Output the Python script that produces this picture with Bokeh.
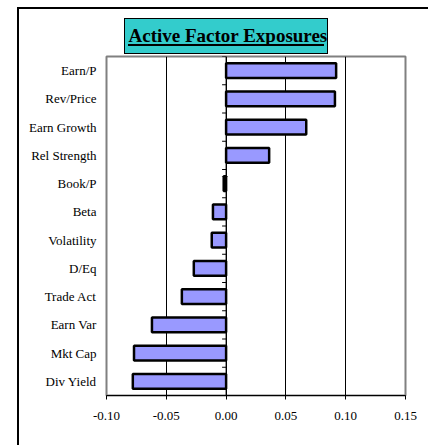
from bokeh.plotting import figure
from bokeh.models import (FactorRange, Range1d, FixedTicker, NumeralTickFormatter,
                          Span, ColumnDataSource, Title)
from bokeh.embed import file_html
from bokeh.resources import INLINE
import math

categories = ["Earn/P", "Rev/Price", "Earn Growth", "Rel Strength", "Book/P", "Beta",
              "Volatility", "D/Eq", "Trade Act", "Earn Var", "Mkt Cap", "Div Yield"]
exposures = [0.092, 0.091, 0.067, 0.036, -0.002, -0.011,
             -0.012, -0.027, -0.037, -0.062, -0.077, -0.078]
x_ticks = [-0.10, -0.05, 0.00, 0.05, 0.10, 0.15]
title_text = "Active Factor Exposures"

FONT = "Liberation Serif"

p = figure(width=428, height=445, output_backend="svg", toolbar_location=None,
           y_range=FactorRange(factors=categories[::-1], range_padding=0),
           x_range=Range1d(x_ticks[0], x_ticks[-1]),
           min_border_left=106, min_border_right=23, min_border_top=56, min_border_bottom=50)
p.background_fill_color = "white"
p.border_fill_color = None
p.outline_line_color = "#808080"
p.outline_line_width = 2

# chart-area decoration: outer border, title box and title underline
p.styles = {
    "background-color": "white",
    "background-image": ("linear-gradient(#000,#000), linear-gradient(#33CCCC,#33CCCC), "
                         "linear-gradient(#000,#000)"),
    "background-position": "128px 44px, 125px 19px, 124px 18px",
    "background-size": "196px 2px, 202px 34px, 204px 36px",
    "background-repeat": "no-repeat",
    "box-shadow": "inset 17px 7px 0 0 white, inset 19px 9px 0 0 black",
}

src = ColumnDataSource(dict(cat=categories, val=exposures))
p.hbar(y="cat", left=0, right="val", height=0.52, source=src,
       fill_color="#9999FF", line_color="black", line_width=2.5)

# zero line
p.add_layout(Span(location=0, dimension="height", line_color="black", line_width=1))

# category tick marks on the zero line (at category boundaries)
tick_y = [(c, 0.5) for c in categories] + [(categories[-1], -0.5)]
p.ray(x=[0] * len(tick_y), y=tick_y, length=4, length_units="screen", angle=math.pi,
      line_color="black", line_width=1)

# grid
p.xgrid.ticker = FixedTicker(ticks=x_ticks)
p.xgrid.grid_line_color = "black"
p.xgrid.grid_line_width = 1
p.ygrid.grid_line_color = None

# x axis
p.xaxis.ticker = FixedTicker(ticks=x_ticks)
p.xaxis.formatter = NumeralTickFormatter(format="0.00")
p.xaxis.axis_line_color = "black"
p.xaxis.major_tick_line_color = "black"
p.xaxis.major_tick_out = 4
p.xaxis.major_tick_in = 0
p.xaxis.minor_tick_line_color = None
p.xaxis.major_label_standoff = 12
p.xaxis.major_label_text_font = FONT
p.xaxis.major_label_text_font_size = "13px"
p.xaxis.major_label_text_color = "black"

# y axis
p.yaxis.axis_line_color = None
p.yaxis.major_tick_line_color = None
p.yaxis.major_tick_out = 0
p.yaxis.major_tick_in = 0
p.yaxis.minor_tick_line_color = None
p.yaxis.major_label_standoff = 10
p.yaxis.major_label_text_font = FONT
p.yaxis.major_label_text_font_size = "13px"
p.yaxis.major_label_text_color = "black"

# title
p.add_layout(Title(text=title_text, align="left", offset=19,
                   padding=dict(left=3, right=3, top=8, bottom=6),
                   text_font=FONT, text_font_style="bold", text_font_size="19px",
                   text_color="black"), "above")

open("out.html", "w").write(file_html(p, INLINE))
